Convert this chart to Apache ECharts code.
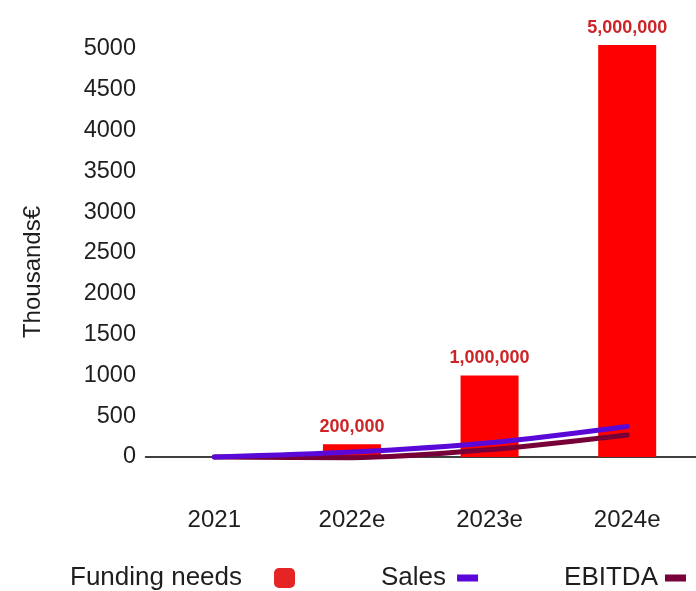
<!DOCTYPE html>
<html><head><meta charset="utf-8">
<script src="https://cdn.jsdelivr.net/npm/echarts@6/dist/echarts.min.js"></script>
<style>html,body{margin:0;padding:0;background:#fff}#c{width:696px;height:591px}</style>
</head><body><div id="c"></div>
<script>
const categories = ['2021', '2022e', '2023e', '2024e'];
const funding = [0, 155, 1000, 5050];
const fundingLabels = ['', '200,000', '1,000,000', '5,000,000'];
const sales = [0, 60, 175, 375];
const ebitda = [0, -8, 90, 270];
const yTicks = { min: 0, max: 5100, interval: 500 };

const font = 'Liberation Sans';
const txt = '#1e1e1e';
const chart = echarts.init(document.getElementById('c'));
chart.setOption({
  animation: false,
  grid: { left: 145.5, right: -6, top: 40.8, bottom: 134 },
  xAxis: {
    type: 'category', data: categories,
    axisLine: { show: true, lineStyle: { color: '#000', width: 1.5 } },
    axisTick: { show: false },
    axisLabel: { margin: 51, fontFamily: font, fontSize: 24, color: txt }
  },
  yAxis: {
    type: 'value', min: yTicks.min, max: yTicks.max, interval: yTicks.interval,
    axisLine: { show: false }, axisTick: { show: false }, splitLine: { show: false },
    axisLabel: { margin: 9.5, fontFamily: font, fontSize: 23.5, color: txt, showMaxLabel: false,
      formatter: v => String(v) }
  },
  graphic: [{
    type: 'text', x: 33.5, y: 272, rotation: Math.PI / 2,
    style: { text: 'Thousands€', fontFamily: font, fontSize: 24, fill: txt, align: 'center', verticalAlign: 'middle' }
  }],
  legend: {
    left: 70, top: 565, padding: 0, align: 'right', itemGap: 86, itemWidth: 21, itemHeight: 20,
    textStyle: { fontFamily: font, fontSize: 26, color: txt },
    data: [
      { name: 'Funding needs', icon: 'roundRect', itemStyle: { color: '#e52424' }, textStyle: { padding: [0, 27, 0, 0] } },
      { name: 'Sales', icon: 'path://M0,0 H21 V7 H0 Z', textStyle: { padding: [0, 6, 0, 0] } },
      { name: 'EBITDA', icon: 'path://M0,0 H21 V7 H0 Z', textStyle: { padding: [0, 2, 0, 0] } }
    ]
  },
  series: [
    {
      name: 'Funding needs', type: 'bar', data: funding, barWidth: 58,
      itemStyle: { color: '#ff0000' },
      label: {
        show: true, position: 'top', distance: 8,
        formatter: p => fundingLabels[p.dataIndex],
        fontFamily: font, fontSize: 18, fontWeight: 'bold', color: '#cc2528'
      }
    },
    {
      name: 'EBITDA', type: 'line', data: ebitda, smooth: 0.3, symbol: 'none', clip: false,
      itemStyle: { color: '#780038' },
      lineStyle: { width: 5, color: '#780038', cap: 'round' }
    },
    {
      name: 'Sales', type: 'line', data: sales, smooth: 0.3, symbol: 'none', clip: false,
      itemStyle: { color: '#5a08d8' },
      lineStyle: { width: 5, color: '#5a08d8', cap: 'round' }
    }
  ]
});
</script></body></html>
